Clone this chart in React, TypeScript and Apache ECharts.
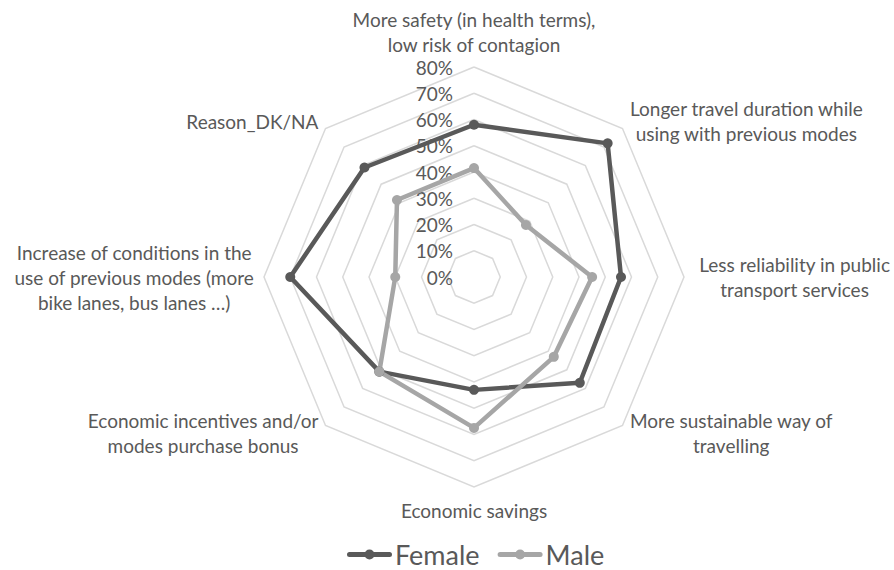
import React, { useEffect, useRef } from "react";
import * as echarts from "echarts";

// Indicators listed counter-clockwise starting from the top (ECharts radar order)
const categories: string[] = [
  "More safety (in health terms),\nlow risk of contagion",
  "Reason_DK/NA",
  "Increase of conditions in the\nuse of previous modes (more\nbike lanes, bus lanes …)",
  "Economic incentives and/or\nmodes purchase bonus",
  "Economic savings",
  "More sustainable way of\ntravelling",
  "Less reliability in public\ntransport services",
  "Longer travel duration while\nusing with previous modes",
];

const femaleValues: number[] = [58, 59, 70, 51, 43, 57, 56, 72];
const maleValues: number[] = [41.5, 41.5, 30, 51, 57.5, 43, 45, 28];

const axisMax = 80;
const axisSplits = 8;

const FONT = "Lato";
const TEXT = "#595959";

export default function App() {
  const ref = useRef<HTMLDivElement>(null);
  useEffect(() => {
    if (!ref.current) return;
    const chart = echarts.init(ref.current, null, { renderer: "svg" });
    const indicator = categories.map((name, i) => {
      const ind: any = { name, max: axisMax, min: 0 };
      if (i === 0) {
        ind.axisLabel = {
          show: true,
          formatter: "{value}%",
          fontFamily: FONT,
          fontSize: 19,
          color: TEXT,
          margin: 21,
        };
      }
      if (i === 6) ind.nameGap = 15;
      if (i === 4) ind.nameGap = 11;
      return ind;
    });
    chart.setOption({
      animation: false,
      backgroundColor: "#ffffff",
      textStyle: { fontFamily: FONT },
      legend: {
        data: ["Female", "Male"],
        bottom: -3,
        left: 342,
        itemWidth: 45,
        itemHeight: 10,
        itemGap: 18,
        icon: "path://M2.5,2.5 L42.5,2.5 A2.5,2.5 0 0 1 42.5,7.5 L2.5,7.5 A2.5,2.5 0 0 1 2.5,2.5 Z M22.5,0 A5,5 0 1 1 22.5,10 A5,5 0 1 1 22.5,0 Z",
        textStyle: { fontFamily: FONT, fontSize: 27, color: TEXT, padding: [0, 0, 0, -2] },
      },
      radar: {
        center: [474, 277],
        radius: 210,
        startAngle: 90,
        shape: "polygon",
        splitNumber: axisSplits,
        indicator,
        axisName: {
          color: TEXT,
          fontFamily: FONT,
          fontSize: 19,
          formatter: (name: string) =>
            name
              .split("\n")
              .map((l) => `{c|${l}}`)
              .join("\n"),
          rich: {
            c: {
              align: "center",
              fontFamily: FONT,
              fontSize: 19,
              lineHeight: 25,
              color: TEXT,
            },
          },
        },
        nameGap: 10,
        axisLine: { show: false },
        axisTick: { show: false },
        axisLabel: { show: false },
        splitLine: { lineStyle: { color: "#D9D9D9", width: 1.5 } },
        splitArea: { show: false },
      },
      series: [
        {
          type: "radar",
          symbol: "circle",
          symbolSize: 10,
          data: [
            {
              name: "Female",
              value: femaleValues,
              itemStyle: { color: "#595959" },
              lineStyle: { color: "#595959", width: 4.5 },
            },
            {
              name: "Male",
              value: maleValues,
              itemStyle: { color: "#A6A6A6" },
              lineStyle: { color: "#A6A6A6", width: 4.5 },
            },
          ],
        },
      ],
    });
    return () => chart.dispose();
  }, []);
  return (
    <div
      ref={ref}
      style={{ position: "fixed", left: 0, top: 0, width: 894, height: 570 }}
    />
  );
}
